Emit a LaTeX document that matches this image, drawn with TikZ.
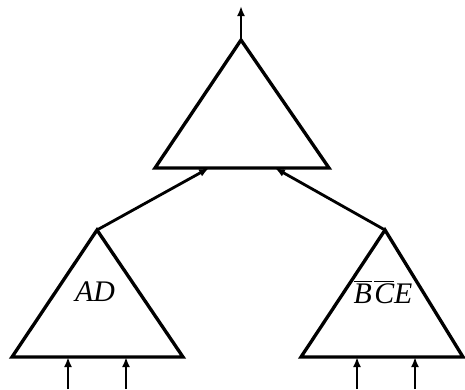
\documentclass[tikz,border=0pt]{standalone}
\usepackage{fontspec}
\setmainfont{Liberation Serif}
\usetikzlibrary{arrows.meta}

\tikzset{
  gate/.style={line width=1.9pt, line join=miter},
  wire/.style={line width=1.6pt, -{Latex[length=2mm,width=1.6mm]}},
  term/.style={font=\fontsize{17}{20}\selectfont\itshape}
}

\begin{document}
\begin{tikzpicture}
    \useasboundingbox (0,0) rectangle (9.3,7.78);

    % Corners of the top triangle
    \coordinate (topApex) at (4.82,6.98);
    \coordinate (topL) at (3.10,4.42);
    \coordinate (topR) at (6.58,4.42);
    \coordinate (out) at (4.82,7.66);

    % Corners of the left triangle
    \coordinate (leftApex) at (1.94,3.18);
    \coordinate (leftL) at (0.24,0.64);
    \coordinate (leftR) at (3.66,0.64);

    % Corners of the right triangle
    \coordinate (rightApex) at (7.70,3.18);
    \coordinate (rightL) at (6.02,0.64);
    \coordinate (rightR) at (9.26,0.64);

    % Draw the three triangles
    \draw[gate] (topApex) -- (topL) -- (topR) -- cycle;
    \draw[gate] (leftApex) -- (leftL) -- (leftR) -- cycle;
    \draw[gate] (rightApex) -- (rightL) -- (rightR) -- cycle;

    % Labels inside the lower triangles
    \node[term] (ad) at (1.90,1.94) {AD};
    \node[term] (bce) at (7.66,1.94)
      {$\overline{\hbox{\itshape B}}\mkern1.5mu\overline{\hbox{\itshape C}}\hbox{\itshape E}$};

    % Output on top
    \draw[wire] (topApex) -- (out);

    % Lower triangles feed the top one
    \coordinate (inA) at (4.18,4.42);
    \coordinate (inB) at (5.50,4.42);
    \draw[wire] (leftApex) -- (inA);
    \draw[wire] (rightApex) -- (inB);

    % Inputs from below
    \foreach \x in {1.36,2.52,7.14,8.30} {
      \draw[wire] (\x,0) -- (\x,0.64);
    }
\end{tikzpicture}
\end{document}
